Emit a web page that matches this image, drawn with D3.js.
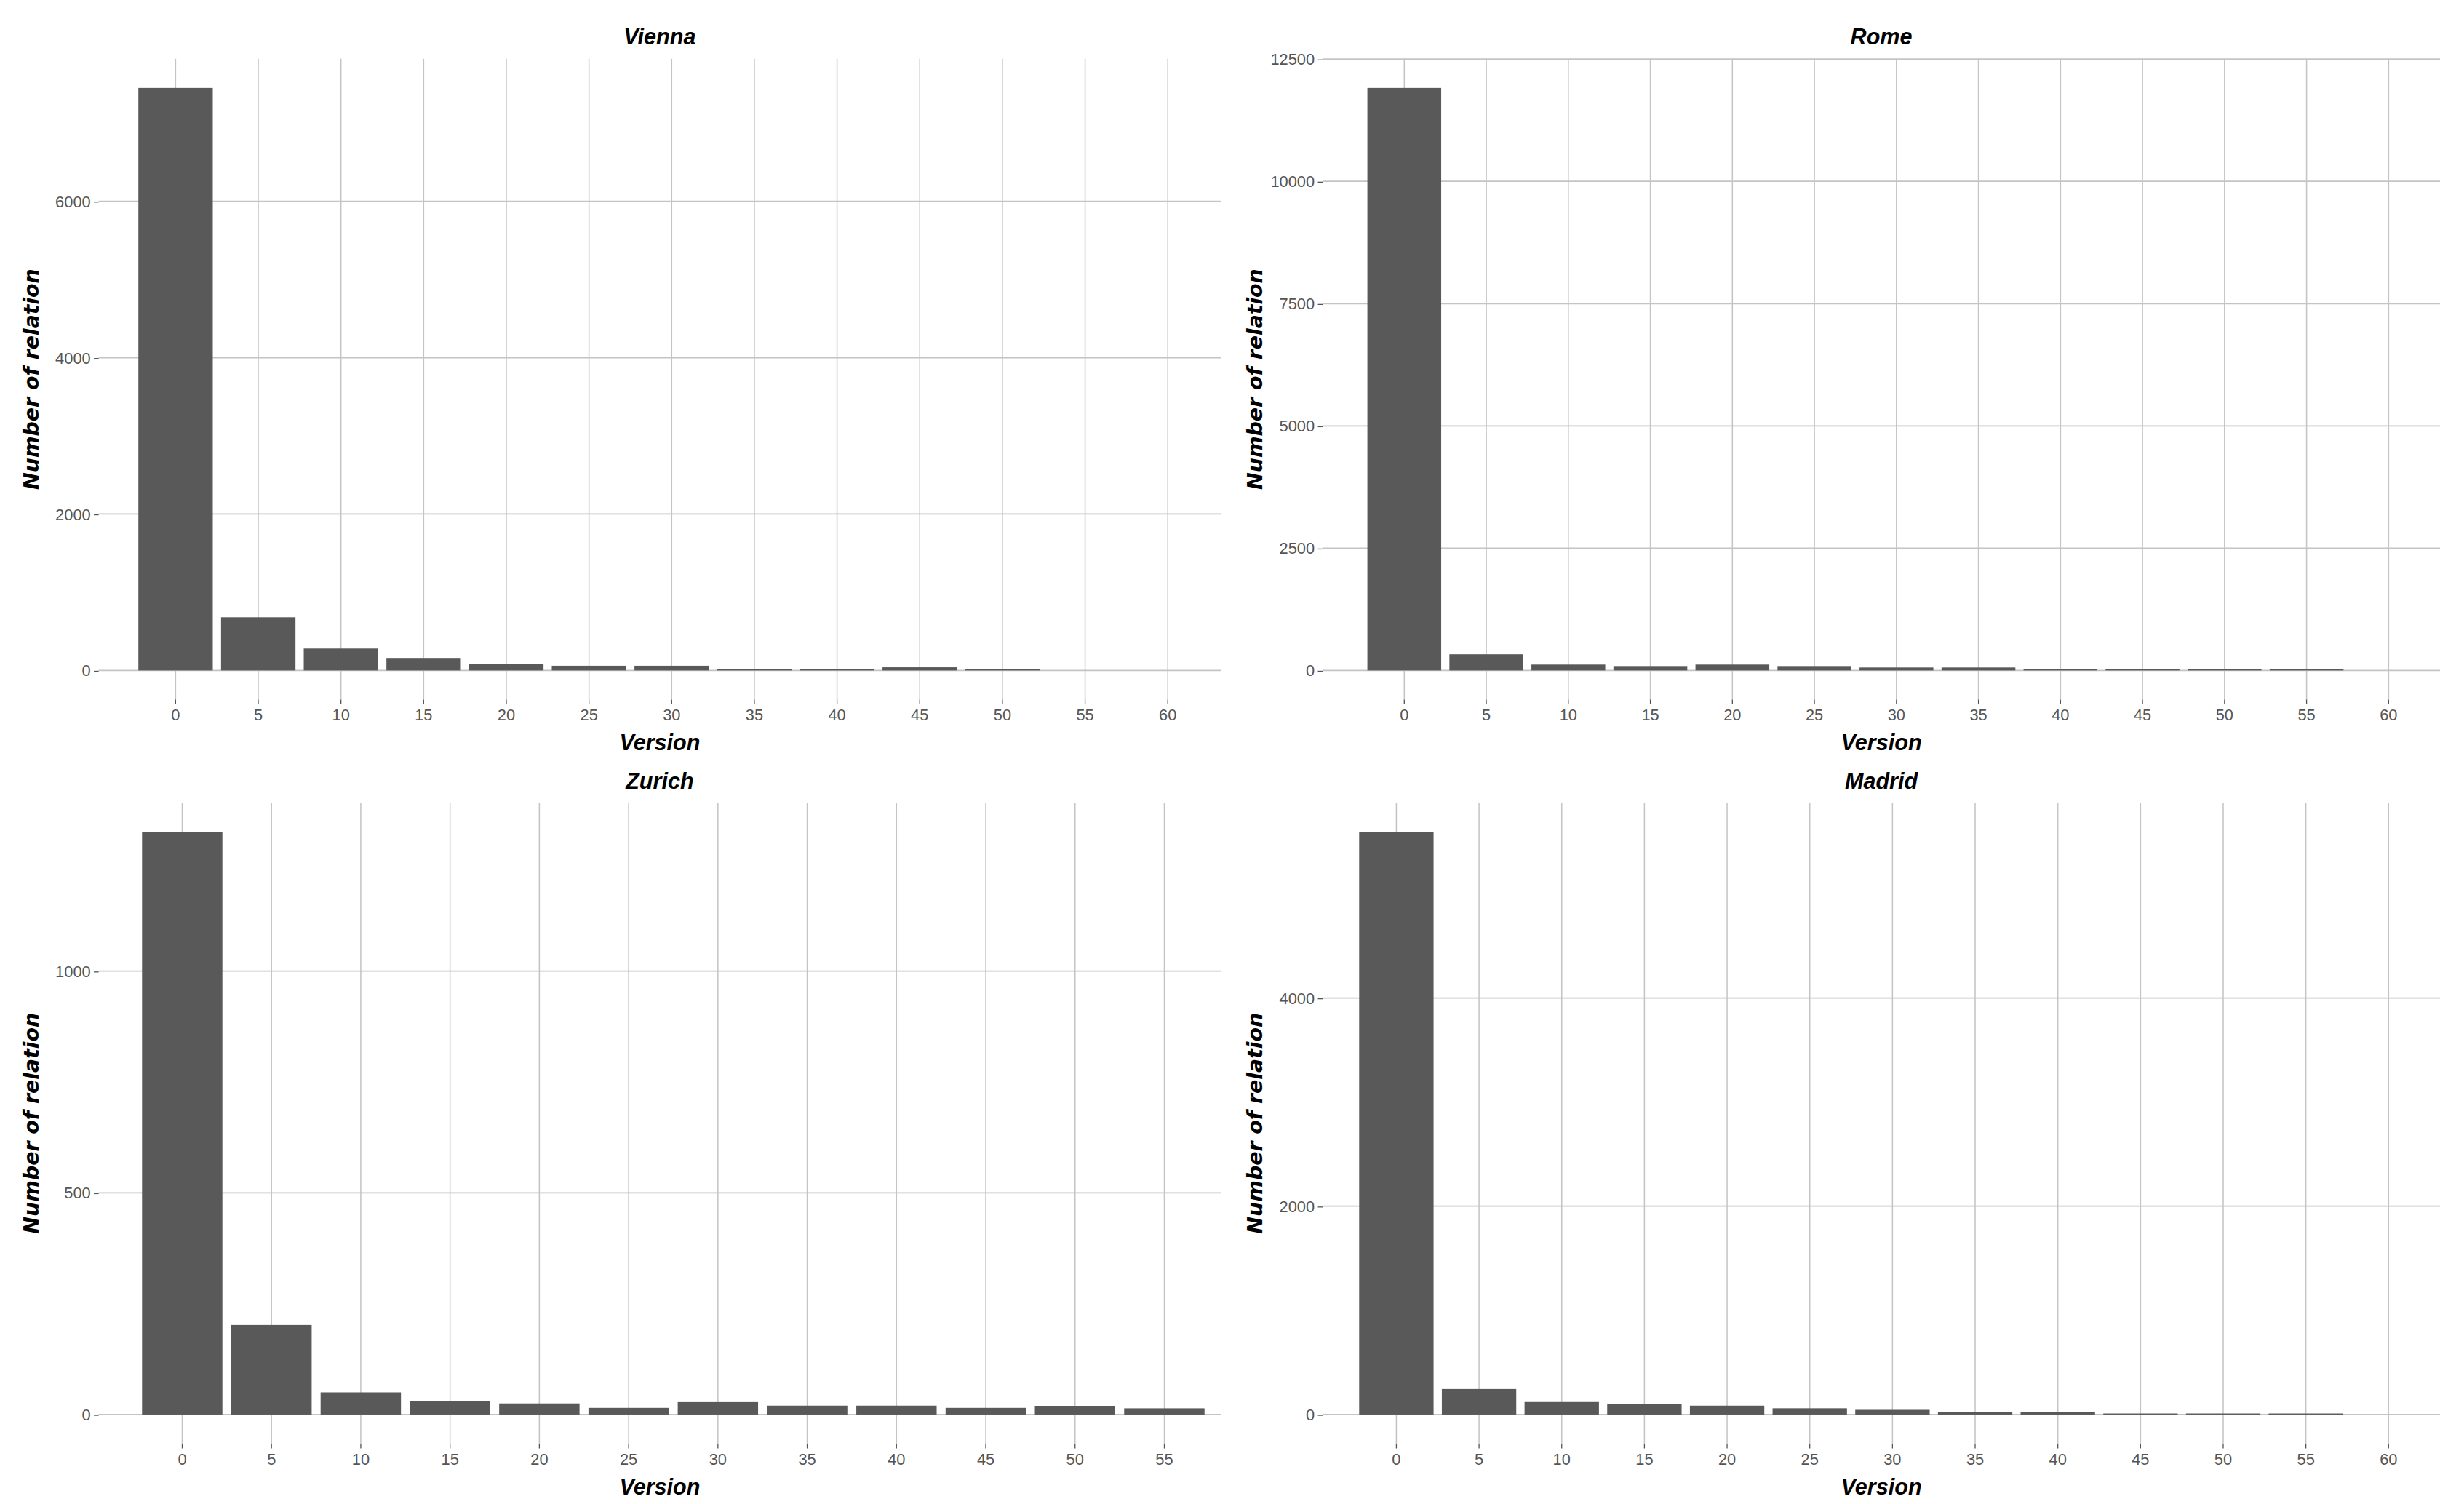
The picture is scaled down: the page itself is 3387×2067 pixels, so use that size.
<!DOCTYPE html>
<html><head><meta charset="utf-8">
<script src="https://cdn.jsdelivr.net/npm/d3@7"></script>
<style>body{margin:0;background:#fff}</style>
</head><body>
<svg id="chart" width="3387" height="2067" viewBox="0 0 1550 946"></svg>
<script>
var versions = [0, 5, 10, 15, 20, 25, 30, 35, 40, 45, 50, 55, 60];
var versionsZurich = [0, 5, 10, 15, 20, 25, 30, 35, 40, 45, 50, 55];
var vienna = [7450, 680, 280, 160, 80, 60, 60, 20, 20, 40, 20, 0, 0];
var rome = [11910, 330, 120, 90, 120, 90, 60, 60, 30, 30, 30, 30, 0];
var zurich = [1314, 202, 50, 30, 25, 15, 28, 20, 20, 15, 18, 14];
var madrid = [5594, 245, 120, 100, 85, 60, 45, 25, 25, 10, 10, 10, 0];
var viennaTicks = [0, 2000, 4000, 6000];
var romeTicks = [0, 2500, 5000, 7500, 10000, 12500];
var zurichTicks = [0, 500, 1000];
var madridTicks = [0, 2000, 4000];

var panels = [
  {title: "Vienna", cats: versions, vals: vienna, ticks: viennaTicks, x0: 62, x1: 768, y0: 37, y1: 440, c0: 108, c1: 737},
  {title: "Rome", cats: versions, vals: rome, ticks: romeTicks, x0: 832, x1: 1535, y0: 37, y1: 440, c0: 881, c1: 1505},
  {title: "Zurich", cats: versionsZurich, vals: zurich, ticks: zurichTicks, x0: 62, x1: 768, y0: 505, y1: 908, c0: 112, c1: 735},
  {title: "Madrid", cats: versions, vals: madrid, ticks: madridTicks, x0: 832, x1: 1535, y0: 505, y1: 908, c0: 876, c1: 1505}
];

var svg = d3.select("#chart");
var grid = "#c4c4c4";

panels.forEach(function(p) {
  var n = p.cats.length;
  var step = (p.c1 - p.c0) / (n - 1);
  var x = d3.scaleBand().domain(p.cats).range([p.c0 - step / 2, p.c1 + step / 2]).padding(0.1);
  var max = d3.max(p.vals);
  var y = d3.scaleLinear().domain([-0.05 * max, 1.05 * max]).range([p.y1, p.y0]);
  var g = svg.append("g");

  // vertical grid
  g.selectAll(".vg").data(p.cats).enter().append("line")
    .attr("x1", function(d) { return x(d) + x.bandwidth() / 2; })
    .attr("x2", function(d) { return x(d) + x.bandwidth() / 2; })
    .attr("y1", p.y0).attr("y2", p.y1)
    .attr("stroke", grid).attr("stroke-width", 0.7);
  // horizontal grid
  g.selectAll(".hg").data(p.ticks).enter().append("line")
    .attr("x1", p.x0).attr("x2", p.x1)
    .attr("y1", function(d) { return y(d); }).attr("y2", function(d) { return y(d); })
    .attr("stroke", grid).attr("stroke-width", 0.8);

  g.selectAll("rect").data(p.vals).enter().append("rect")
    .attr("x", function(d, i) { return x(p.cats[i]); })
    .attr("y", function(d) { return y(d); })
    .attr("width", x.bandwidth())
    .attr("height", function(d) { return y(0) - y(d); })
    .attr("fill", "#595959");

  var ya = d3.axisLeft(y).tickValues(p.ticks).tickSize(3).tickPadding(2).tickFormat(d3.format("d"));
  var yg = g.append("g").attr("transform", "translate(" + p.x0 + ",0)").call(ya);
  var xa = d3.axisBottom(x).tickSize(3).tickPadding(3);
  var xg = g.append("g").attr("transform", "translate(0," + p.y1 + ")").call(xa);
  [yg, xg].forEach(function(a) {
    a.select(".domain").remove();
    a.selectAll("line").attr("stroke", "#555").attr("stroke-width", 0.6);
    a.selectAll("text").attr("font-family", "Liberation Sans Narrow, Liberation Sans, sans-serif")
      .attr("font-size", 10).attr("fill", "#555");
  });

  var cx = (p.x0 + p.x1) / 2;
  g.append("text").attr("x", cx).attr("y", p.y0 - 9).attr("text-anchor", "middle")
    .attr("font-family", "Liberation Sans, sans-serif").attr("font-weight", "bold")
    .attr("font-style", "italic").attr("font-size", 14).text(p.title);
  g.append("text").attr("x", cx).attr("y", p.y1 + 32).attr("text-anchor", "middle")
    .attr("font-family", "Liberation Sans, sans-serif").attr("font-weight", "bold")
    .attr("font-style", "italic").attr("font-size", 14).text("Version");
  g.append("text")
    .attr("transform", "translate(" + (p.x0 - 38) + "," + ((p.y0 + p.y1) / 2) + ") rotate(-90)")
    .attr("text-anchor", "middle")
    .attr("font-family", "DejaVu Sans, sans-serif").attr("font-weight", "bold")
    .attr("font-style", "italic").attr("font-size", 13).text("Number of relation");
});
</script>
</body></html>
